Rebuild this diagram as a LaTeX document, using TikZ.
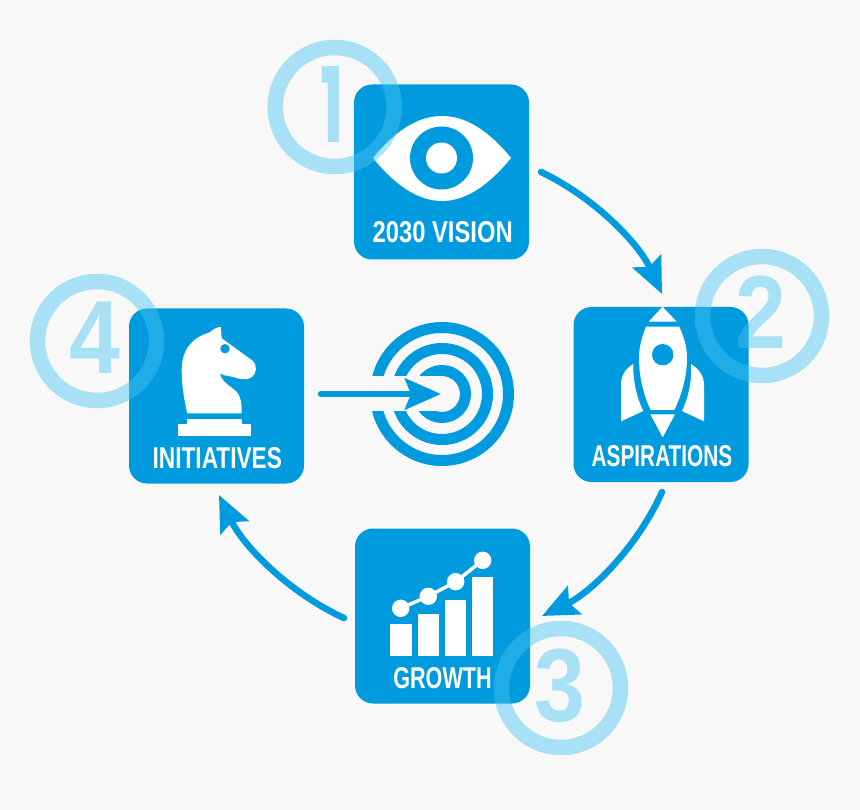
\documentclass[tikz,border=0pt]{standalone}
\usepackage{fontspec}
\usepackage{graphicx}
\usetikzlibrary{arrows.meta}
\setmainfont{Liberation Sans}
\newfontfamily\digitfont[FakeStretch=0.88]{Liberation Sans}
\newfontfamily\onefont[FakeStretch=0.6]{Poppins}
\definecolor{tileblue}{HTML}{009BDE}
\definecolor{ringblue}{RGB}{71,196,242}
\definecolor{paper}{HTML}{F8F8F8}
\newcommand{\tiletext}[2]{\resizebox{#1}{21pt}{\bfseries #2}}
\tikzset{
  tile/.style={fill=tileblue,rounded corners=18pt,minimum size=175pt,inner sep=0pt},
  caption/.style={text=white,inner sep=0pt},
  ring/.style={draw=ringblue,draw opacity=.45,line width=15.5pt,circle,minimum size=119pt,inner sep=0pt},
  numeral/.style={text=ringblue,text opacity=.45,inner sep=0pt,font=\digitfont\bfseries\fontsize{104}{104}\selectfont},
  flow/.style={draw=tileblue,line width=6.5pt,line cap=round,-{Stealth[length=36pt,width=31pt,inset=6pt]}},
  target/.style={draw=tileblue,line width=11pt}
}
\begin{document}
\begin{tikzpicture}[x=1pt,y=-1pt]
\fill[paper] (0,0) rectangle (860,810);
\useasboundingbox (0,0) rectangle (860,810);

\node[tile] (vision) at (441.5,172) {};
\node[tile] (aspirations) at (661,394.5) {};
\node[tile] (growth) at (442.5,616) {};
\node[tile] (initiatives) at (216.5,396) {};

\node[caption] (visiontext) at (442.7,232) {\tiletext{140pt}{2030 VISION}};
\node[caption] (aspirationstext) at (662,456.3) {\tiletext{140.6pt}{ASPIRATIONS}};
\node[caption] (growthtext) at (442.5,678) {\tiletext{98.4pt}{GROWTH}};
\node[caption] (initiativestext) at (217.3,457.8) {\tiletext{129.3pt}{INITIATIVES}};

% eye
\fill[white] (373,158) .. controls (395,131) and (418,116) .. (442,116) .. controls (466,116) and (489,131) .. (511,158) .. controls (489,185) and (466,201) .. (442,201) .. controls (418,201) and (395,185) .. (373,158) -- cycle;
\fill[tileblue] (441.5,158) circle (31.5);
\fill[white] (441.5,158) circle (15.5);

% rocket
\fill[white] (662.5,306.7) -- (676.7,321.7) -- (648.7,321.7) -- cycle;
\fill[white] (646,326.7) -- (679.3,326.7) .. controls (684,337) and (687,347) .. (687,358) .. controls (687,378) and (681,396) .. (674.3,410) -- (650.7,410) .. controls (644,396) and (639,378) .. (639,358) .. controls (639,347) and (642,337) .. (646,326.7) -- cycle;
\fill[tileblue] (662.7,354.7) circle (10.7);
\fill[white] (650.3,414.3) -- (675,414.3) -- (662.7,437.3) -- cycle;
\fill[white] (633.3,364) .. controls (625,369) and (621,376) .. (621,385) -- (621,421.3) -- (643.3,411) .. controls (636,396) and (633,380) .. (633.3,364) -- cycle;
\fill[white] (691,364) .. controls (699,369) and (704,376) .. (704,385) -- (704,421.3) -- (682,411) .. controls (689,396) and (692,380) .. (691,364) -- cycle;

% chart
\fill[white] (390.3,624.3) rectangle (411.7,655.7);
\fill[white] (417.7,614) rectangle (438.7,655.7);
\fill[white] (444.7,600.3) rectangle (465.7,655.7);
\fill[white] (472,577.3) rectangle (493,655.7);
\draw[white,line width=3.5pt] (400.7,608.3) -- (428.3,596.3) -- (455.7,581.7) -- (482.7,560.3);
\fill[white] (400.7,608.3) circle (8.7);
\fill[white] (428.3,596.3) circle (8.7);
\fill[white] (455.7,581.7) circle (8.7);
\fill[white] (482.7,560.3) circle (8.7);

% knight
\fill[white] (178,424.3) rectangle (250.7,435.7);
\fill[white] (186.7,418.7) rectangle (241.7,424.3);
\fill[white] (187.3,413.3) .. controls (183,395) and (181.7,382) .. (181.7,370) .. controls (181.7,352) and (190,338) .. (210,332.3) .. controls (213,329) and (217,327.5) .. (220.7,326.7) -- (221.7,338.3) -- (253,361) .. controls (257,365) and (257,373) .. (252,377) .. controls (247,381) and (240,379) .. (231.7,376.7) .. controls (227,376) and (222,375) .. (220,373.3) .. controls (221,381) and (230,386) .. (236,391) .. controls (241,396) and (241.7,404) .. (241.7,413.3) -- cycle;
\fill[tileblue] (225,348.7) circle (4.7);

% target
\draw[target] (442,394) circle (66.5);
\draw[target] (442,394) circle (45.5);
\draw[target] (442,394) circle (23.5);
\fill[paper] (360,376) rectangle (442,411);

\coordinate (a1) at (541,172);
\coordinate (a2) at (662,294);
\coordinate (b1) at (662,492);
\coordinate (b2) at (542,616);
\coordinate (c1) at (344,618);
\coordinate (c2) at (219,495);
\coordinate (d1) at (321,394);
\coordinate (d2) at (441,394);

\path[flow] (a1) to[bend left=20,looseness=.85] (a2);
\path[flow] (b1) to[bend left=20,looseness=.85] (b2);
\path[flow] (c1) to[bend left=20,looseness=.85] (c2);
\path[flow] (d1) -- (d2);

\node[ring] (ring1) at (334.7,107) {};
\node[ring] (ring2) at (762,316) {};
\node[ring] (ring3) at (561,688) {};
\node[ring] (ring4) at (97,341) {};

\node[numeral,font=\onefont\bfseries\fontsize{104}{104}\selectfont] (num1) at (332,105) {1};
\node[numeral] (num2) at (760.5,312.5) {2};
\node[numeral] (num3) at (560,685.8) {3};
\node[numeral] (num4) at (95,338) {4};
\end{tikzpicture}
\end{document}
